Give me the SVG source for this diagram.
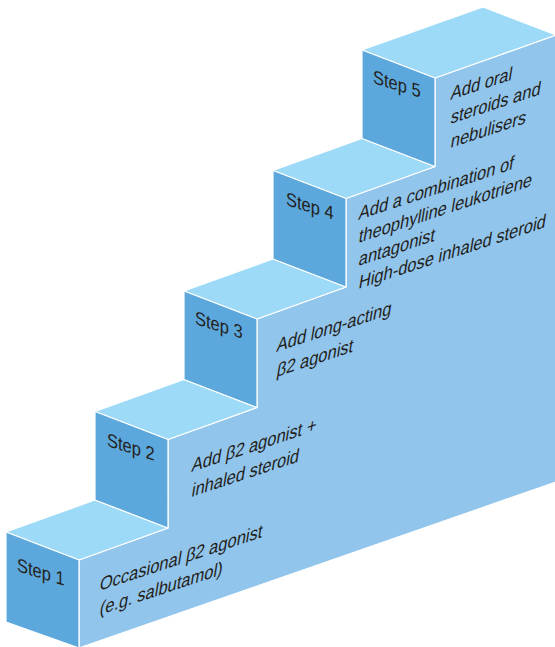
<svg xmlns="http://www.w3.org/2000/svg" width="555" height="647" viewBox="0 0 555 647">
<style>
.top{fill:#9cdaf7;stroke:#fff;stroke-width:1.2;stroke-linejoin:round}
.side{fill:#5ca8dd;stroke:#fff;stroke-width:1.2;stroke-linejoin:round}
.front{fill:#92c5ec;stroke:#fff;stroke-width:1.2;stroke-linejoin:round}
text{font-family:"Liberation Sans",Arial,sans-serif;font-size:16.5px;fill:#231f20}
</style>
<rect width="555" height="647" fill="#fff"/>
<g id="front-face">
<polygon class="front" points="79,560 168,528 168,439.5 257,407.5 257,319 346,287 346,198.5 435,166.5 435,78 556,35 556,482 79,648"/>
</g>
<g id="step1">
<polygon class="top" points="6,532 79,560 168,528 95,500"/>
<polygon class="side" points="6,532 79,560 79,648 6,622"/>
<text transform="matrix(1,0.31,0,1.15,17,571)">Step 1</text>
<text transform="matrix(1,-0.33,-0.19,1.17,99,591)">Occasional β2 agonist</text>
<text transform="matrix(1,-0.33,-0.19,1.17,99,615)">(e.g. salbutamol)</text>
</g>
<g id="step2">
<polygon class="top" points="95,411.5 168,439.5 257,407.5 184,379.5"/>
<polygon class="side" points="95,411.5 168,439.5 168,528 95,500"/>
<text transform="matrix(1,0.31,0,1.15,107,446)">Step 2</text>
<text transform="matrix(1,-0.33,-0.19,1.17,191,472)">Add β2 agonist +</text>
<text transform="matrix(1,-0.33,-0.19,1.17,191,497)">inhaled steroid</text>
</g>
<g id="step3">
<polygon class="top" points="184,291 257,319 346,287 273,259"/>
<polygon class="side" points="184,291 257,319 257,407.5 184,379.5"/>
<text transform="matrix(1,0.31,0,1.15,195,324)">Step 3</text>
<text transform="matrix(1,-0.33,-0.19,1.17,276,352)">Add long-acting</text>
<text transform="matrix(1,-0.33,-0.19,1.17,276,377)">β2 agonist</text>
</g>
<g id="step4">
<polygon class="top" points="273,170.5 346,198.5 435,166.5 362,138.5"/>
<polygon class="side" points="273,170.5 346,198.5 346,287 273,259"/>
<text transform="matrix(1,0.31,0,1.15,286,205)">Step 4</text>
<text transform="matrix(1,-0.33,-0.19,1.17,358,220)">Add a combination of</text>
<text transform="matrix(1,-0.33,-0.19,1.17,358,243)">theophylline leukotriene</text>
<text transform="matrix(1,-0.33,-0.19,1.17,358,266)">antagonist</text>
<text transform="matrix(1,-0.33,-0.19,1.17,358,289)">High-dose inhaled steroid</text>
</g>
<g id="step5">
<polygon class="top" points="362,50 435,78 556,35 483,7"/>
<polygon class="side" points="362,50 435,78 435,166.5 362,138.5"/>
<text transform="matrix(1,0.31,0,1.15,373,83)">Step 5</text>
<text transform="matrix(1,-0.33,-0.19,1.17,450,100)">Add oral</text>
<text transform="matrix(1,-0.33,-0.19,1.17,450,124)">steroids and</text>
<text transform="matrix(1,-0.33,-0.19,1.17,450,148)">nebulisers</text>
</g>
<g id="connectors"/>
</svg>
